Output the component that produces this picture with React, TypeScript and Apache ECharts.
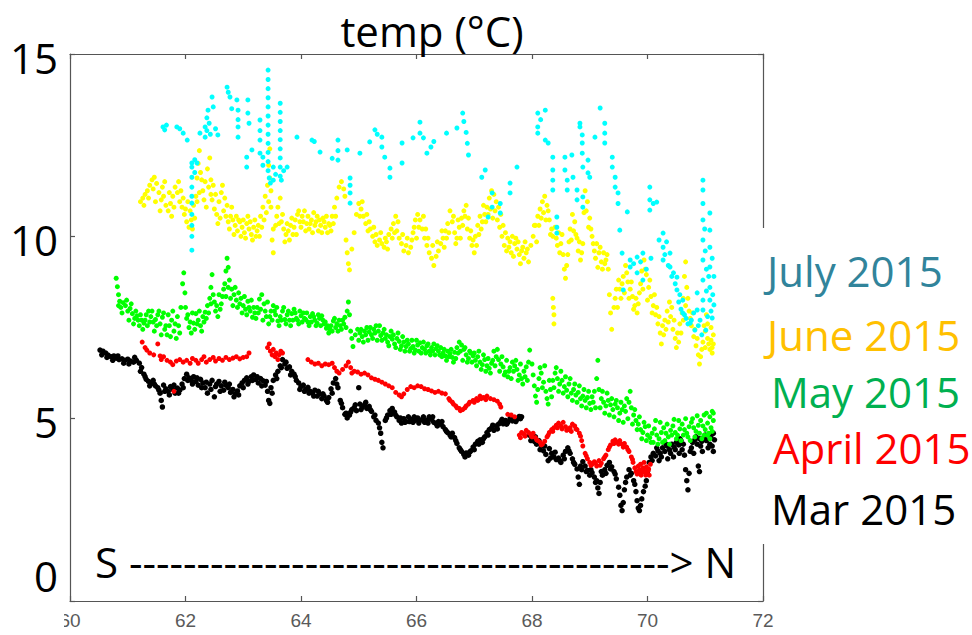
import React, { useEffect, useRef } from "react";
import * as echarts from "echarts";

// Longitude (°) vs temperature (°C) readings for each monthly transect
const marPoints: [number, number][] = [
  [60.52,6.88],[60.57,6.85],[60.62,6.80],[60.66,6.74],[60.71,6.70],[60.76,6.72],[60.80,6.66],[60.85,6.62],[60.90,6.64],[60.95,6.60],
  [61.00,6.63],[61.05,6.58],[61.10,6.55],[61.15,6.60],[61.20,6.52],[61.24,6.40],[61.28,6.22],[61.32,6.08],[61.36,6.02],[61.40,5.96],
  [61.44,6.05],[61.48,5.90],[61.52,5.85],[61.56,5.70],[61.58,5.50],[61.60,5.32],[61.62,5.92],[61.66,5.82],[61.70,5.75],[61.74,5.88],
  [61.78,5.80],[61.82,5.70],[61.86,5.84],[61.90,5.78],[61.94,5.95],[61.98,6.10],[62.02,6.22],[62.06,6.12],[62.10,6.05],[62.14,6.15],
  [62.18,6.02],[62.22,5.92],[62.26,6.08],[62.30,5.98],[62.34,5.85],[62.38,5.70],[62.42,5.95],[62.46,6.05],[62.50,5.60],[62.54,5.95],
  [62.58,6.02],[62.62,5.90],[62.66,5.78],[62.70,5.92],[62.74,5.85],[62.78,5.72],[62.82,5.80],[62.86,5.68],[62.90,5.76],[62.94,5.90],
  [62.98,5.98],[63.02,6.05],[63.06,6.12],[63.10,6.02],[63.14,6.15],[63.18,6.20],[63.22,6.08],[63.26,5.98],[63.30,6.10],[63.34,6.04],
  [63.38,5.92],[63.42,5.75],[63.44,5.50],[63.46,5.42],[63.48,5.85],[63.52,6.05],[63.56,6.20],[63.60,6.30],[63.64,6.45],[63.68,6.62],
  [63.72,6.50],[63.76,6.38],[63.80,6.42],[63.84,6.30],[63.88,6.22],[63.92,6.05],[63.96,5.98],[64.00,5.88],[64.04,5.92],[64.08,5.80],
  [64.12,5.86],[64.16,5.75],[64.20,5.70],[64.24,5.78],[64.28,5.62],[64.32,5.68],[64.36,5.55],[64.40,5.62],[64.44,5.50],[64.48,5.58],
  [64.52,5.82],[64.56,5.98],[64.60,6.10],[64.64,5.85],[64.68,5.50],[64.72,5.30],[64.76,5.12],[64.80,5.02],[64.84,5.10],[64.88,5.25],
  [64.92,5.30],[64.96,5.22],[65.00,5.85],[65.02,5.40],[65.06,5.32],[65.10,5.38],[65.14,5.28],[65.18,5.34],[65.22,5.20],[65.26,5.05],
  [65.30,4.95],[65.34,4.88],[65.38,4.60],[65.40,4.35],[65.42,4.20],[65.46,4.95],[65.50,5.10],[65.54,5.22],[65.58,5.28],[65.62,5.18],
  [65.66,5.05],[65.70,4.95],[65.74,4.88],[65.78,5.00],[65.82,4.92],[65.86,5.05],[65.90,4.98],[65.94,4.90],[65.98,4.96],[66.02,5.02],
  [66.06,4.95],[66.10,4.98],[66.14,4.90],[66.18,4.96],[66.22,5.05],[66.26,4.98],[66.30,4.90],[66.34,4.86],[66.38,4.92],[66.42,4.85],
  [66.46,4.78],[66.50,4.70],[66.54,4.62],[66.58,4.55],[66.62,4.60],[66.66,4.48],[66.70,4.32],[66.74,4.20],[66.78,4.10],[66.82,4.02],
  [66.86,4.06],[66.90,4.00],[66.94,4.12],[66.98,4.22],[67.02,4.30],[67.06,4.38],[67.10,4.42],[67.14,4.35],[67.18,4.50],[67.22,4.62],
  [67.26,4.70],[67.30,4.75],[67.34,4.68],[67.38,4.80],[67.42,4.85],[67.46,4.92],[67.50,4.86],[67.54,4.95],[67.58,4.90],[67.62,5.00],
  [67.66,4.94],[67.70,5.02],[67.74,4.98],[67.78,5.06],[67.82,5.05],[67.95,4.55],[68.00,4.45],[68.04,4.38],[68.08,4.30],[68.12,4.40],
  [68.16,4.25],[68.20,4.12],[68.24,4.02],[68.28,3.85],[68.30,4.18],[68.34,4.05],[68.38,3.95],[68.42,3.88],[68.46,3.92],[68.50,3.80],
  [68.54,4.00],[68.58,4.10],[68.62,4.20],[68.66,4.05],[68.70,3.90],[68.74,3.75],[68.78,3.62],[68.80,3.40],[68.82,3.20],[68.84,3.70],
  [68.88,3.82],[68.92,3.70],[68.96,3.58],[69.00,3.45],[69.04,3.52],[69.08,3.40],[69.12,3.30],[69.14,3.10],[69.16,2.95],[69.18,3.25],
  [69.22,3.45],[69.26,3.60],[69.30,3.72],[69.34,3.80],[69.38,3.68],[69.42,3.55],[69.46,3.35],[69.50,3.12],[69.52,2.90],[69.54,2.62],
  [69.56,2.48],[69.58,2.70],[69.60,3.05],[69.64,3.40],[69.68,3.60],[69.72,3.50],[69.76,3.30],[69.80,3.00],[69.82,2.75],[69.84,2.55],
  [69.86,2.48],[69.88,2.62],[69.90,2.80],[69.93,3.00],[69.96,3.15],[69.98,3.30],[70.00,3.55],[70.03,3.80],[70.06,3.95],[70.10,4.05],
  [70.14,3.98],[70.18,4.12],[70.22,4.05],[70.26,4.20],[70.30,4.10],[70.34,4.25],[70.38,4.15],[70.42,4.30],[70.46,4.22],[70.50,4.35],
  [70.54,4.28],[70.58,4.40],[70.62,4.30],[70.64,4.00],[70.66,3.60],[70.68,3.30],[70.70,3.05],[70.72,3.50],[70.74,4.10],[70.78,4.35],
  [70.82,4.42],[70.86,4.30],[70.90,4.45],[70.94,4.38],[70.98,4.50],[71.02,4.40],[71.06,4.55],[71.10,4.48],[71.14,4.60],[71.16,4.42],
  [70.20,3.85],[70.35,3.90],[70.45,3.95],[70.55,4.05],[70.80,4.05],[70.95,4.10],[71.05,4.20],[71.12,4.25],[70.88,3.70],[70.90,3.55],
  [60.55,6.75],[60.64,6.68],[60.74,6.60],[60.83,6.72],[60.93,6.52],[61.02,6.50],[61.12,6.68],[61.22,6.30],[61.30,6.15],[61.38,5.90],
  [61.46,5.95],[61.54,5.78],[61.64,5.75],[61.72,5.65],[61.80,5.92],[61.88,5.70],[61.96,5.85],[62.04,6.05],[62.12,5.95],[62.20,6.12],
  [62.28,5.85],[62.36,6.00],[62.44,5.80],[62.52,5.88],[62.60,5.75],[62.68,6.00],[62.76,5.95],[62.84,5.60],[62.92,5.65],[63.00,5.85],
  [63.08,5.95],[63.16,6.05],[63.24,6.15],[63.32,5.90],[63.40,6.02],[63.50,5.70],[63.58,6.10],[63.66,6.40],[63.74,6.55],[63.82,6.20],
  [63.90,6.15],[63.98,5.80],[64.06,5.75],[64.14,5.70],[64.22,5.62],[64.30,5.75],[64.38,5.68],[64.46,5.45],[64.54,5.70],[64.62,5.95],
  [64.70,5.42],[64.78,5.15],[64.86,5.18],[64.94,5.38],[65.04,5.25],[65.12,5.45],[65.20,5.25],[65.28,5.10],[65.36,4.75],[65.48,5.02],
  [65.56,5.12],[65.64,5.10],[65.72,5.02],[65.80,4.90],[65.88,4.92],[65.96,5.05],[66.04,4.88],[66.12,5.05],[66.20,4.88],[66.28,5.05],
  [66.36,4.80],[66.44,4.92],[66.52,4.65],[66.60,4.50],[66.68,4.40],[66.76,4.15],[66.84,3.95],[66.92,4.08],[67.00,4.15],[67.08,4.30],
  [67.16,4.45],[67.24,4.55],[67.32,4.82],[67.40,4.72],[67.48,4.98],[67.56,4.85],[67.64,5.05],[67.72,4.92],[67.80,5.00],
  [67.98,4.40],[68.06,4.50],[68.14,4.15],[68.22,4.25],[68.32,3.92],[68.40,4.08],[68.48,3.85],[68.56,3.90],[68.64,4.12],[68.72,3.80],
  [68.86,3.60],[68.94,3.55],[69.02,3.60],[69.10,3.25],[69.20,3.55],[69.28,3.50],[69.36,3.62],[69.44,3.48],[69.62,3.25],[69.70,3.45],
  [69.78,3.20],[70.08,3.85],[70.16,4.20],[70.24,3.95],[70.32,4.30],[70.40,4.05],[70.48,4.15],[70.56,4.45],[70.60,4.15],[70.76,4.20],
  [70.84,4.50],[70.92,4.25],[71.00,4.55],[71.08,4.30],[71.14,4.10]
];

const aprPoints: [number, number][] = [
  [61.25,7.10],[61.30,6.95],[61.33,6.88],[61.38,6.80],[61.45,6.75],[61.52,7.05],[61.56,6.72],[61.58,6.62],[61.62,6.70],[61.68,6.60],
  [61.74,6.55],[61.78,6.48],[61.80,5.75],[61.84,6.58],[61.90,6.62],[61.96,6.55],[62.02,6.60],[62.08,6.52],[62.12,6.65],[62.18,6.60],
  [62.22,6.52],[62.28,6.62],[62.32,6.70],[62.36,6.55],[62.42,6.62],[62.48,6.68],[62.52,6.58],[62.58,6.65],[62.64,6.60],[62.70,6.68],
  [62.76,6.62],[62.82,6.66],[62.88,6.70],[62.94,6.64],[63.00,6.68],[63.06,6.70],[63.10,6.80],
  [63.42,6.95],[63.45,7.05],[63.47,6.85],[63.50,6.75],[63.52,6.90],[63.55,6.70],[63.57,6.80],[63.60,6.62],[63.62,6.75],[63.65,6.85],[63.68,6.80],
  [64.12,6.62],[64.18,6.55],[64.24,6.50],[64.30,6.52],[64.36,6.45],[64.42,6.50],[64.48,6.48],[64.54,6.52],[64.58,6.40],[64.62,6.30],
  [64.66,6.25],[64.72,6.35],[64.78,6.45],[64.82,6.55],[64.86,6.40],[64.88,6.25],[64.92,6.30],[64.98,6.28],[65.04,6.22],[65.10,6.25],
  [65.16,6.20],[65.22,6.12],[65.28,6.08],[65.34,6.05],[65.40,6.00],[65.46,5.95],[65.52,5.90],[65.58,5.85],[65.64,5.72],[65.70,5.65],
  [65.74,5.60],[65.78,5.68],[65.84,5.80],[65.90,5.88],[65.96,5.85],[66.02,5.90],[66.08,5.88],[66.14,5.82],[66.20,5.80],[66.26,5.76],
  [66.32,5.72],[66.38,5.75],[66.44,5.70],[66.50,5.68],[66.56,5.55],[66.62,5.45],[66.68,5.35],[66.74,5.28],[66.80,5.25],[66.86,5.35],
  [66.92,5.45],[66.98,5.50],[67.04,5.55],[67.10,5.62],[67.16,5.58],[67.22,5.62],[67.28,5.55],[67.34,5.52],[67.40,5.48],[67.44,5.40],
  [67.46,5.32],[67.58,5.12],[67.64,5.10],[67.70,5.05],
  [67.78,4.55],[67.82,4.62],[67.86,4.58],[67.90,4.68],[67.94,4.62],[67.98,4.55],[68.02,4.60],[68.06,4.48],[68.10,4.40],[68.14,4.35],
  [68.18,4.30],[68.22,4.38],[68.26,4.50],[68.30,4.62],[68.34,4.70],[68.38,4.75],[68.42,4.82],[68.46,4.88],[68.50,4.80],[68.54,4.90],
  [68.58,4.78],[68.62,4.70],[68.66,4.75],[68.70,4.85],[68.74,4.80],[68.78,4.70],[68.82,4.60],[68.86,4.40],[68.88,4.25],[68.92,4.05],
  [68.96,3.90],[69.00,3.80],[69.04,3.75],[69.08,3.82],[69.12,3.70],[69.16,3.85],[69.20,3.78],[69.24,3.90],[69.28,4.00],[69.32,4.15],
  [69.36,4.28],[69.40,4.38],[69.44,4.42],[69.48,4.35],[69.52,4.40],[69.56,4.30],[69.60,4.32],[69.64,4.22],[69.68,4.10],[69.72,3.95],
  [69.75,3.80],[69.78,3.65],[69.80,3.55],[69.82,3.48],[69.84,3.70],[69.86,3.60],[69.88,3.75],[69.90,3.52],[69.92,3.65],[69.94,3.80],
  [69.96,3.55],[69.98,3.68],[70.00,3.50],[70.02,3.62],[70.05,3.75],
  [66.58,5.50],[66.64,5.40],[66.70,5.30],[66.76,5.22],[66.84,5.30],[66.90,5.40],[67.00,5.45],[67.06,5.50],[67.12,5.55],[67.20,5.52],
  [67.80,4.48],[67.88,4.52],[68.00,4.50],[68.08,4.42],[68.16,4.28],[68.28,4.55],[68.36,4.65],[68.44,4.75],[68.52,4.72],[68.60,4.68],
  [68.68,4.65],[68.76,4.72],[68.84,4.52],[68.94,3.98],[69.02,3.72],[69.10,3.78],[69.18,3.72],[69.26,3.95],[69.34,4.22],[69.42,4.32],
  [69.50,4.30],[69.58,4.22],[69.66,4.15],[69.74,3.88],[69.85,3.52],[69.89,3.45],[69.93,3.58],[69.97,3.45],[70.01,3.58],[70.03,3.45]
];

const mayPoints: [number, number][] = [
  [60.80,8.85],[60.82,8.62],[60.84,8.40],[60.86,8.22],[60.88,8.05],[60.92,8.18],[60.96,8.10],[61.00,7.95],[61.04,8.02],[61.08,7.88],
  [61.12,7.75],[61.16,7.82],[61.20,7.55],[61.24,7.70],[61.28,7.62],[61.32,7.85],[61.36,7.95],[61.40,7.80],[61.44,7.65],[61.48,7.72],
  [61.52,7.85],[61.56,7.60],[61.60,7.78],[61.64,7.45],[61.68,7.30],[61.72,7.55],[61.76,7.70],[61.80,7.40],[61.84,7.20],[61.88,7.55],
  [61.92,8.05],[61.95,8.70],[61.97,9.00],[61.99,8.45],[62.02,7.75],[62.06,7.50],[62.10,7.35],[62.14,7.62],[62.18,7.88],[62.22,7.70],
  [62.26,7.55],[62.30,7.80],[62.34,7.92],[62.38,8.10],[62.42,8.30],[62.44,8.60],[62.46,8.95],[62.48,8.40],[62.52,7.95],[62.56,7.80],
  [62.60,8.00],[62.64,8.35],[62.68,8.70],[62.70,9.05],[62.72,9.40],[62.74,9.15],[62.76,8.80],[62.80,8.55],[62.84,8.40],[62.88,8.25],
  [62.92,8.45],[62.96,8.30],[63.00,8.10],[63.04,8.00],[63.08,8.22],[63.12,7.95],[63.16,7.78],[63.20,7.90],[63.24,8.05],[63.28,8.28],
  [63.32,8.40],[63.36,8.15],[63.40,7.80],[63.44,7.60],[63.48,7.95],[63.52,8.10],[63.56,7.85],[63.60,7.68],[63.64,7.80],[63.68,7.95],
  [63.72,7.72],[63.76,7.85],[63.80,7.70],[63.84,7.88],[63.88,8.00],[63.92,7.75],[63.96,7.60],[64.00,7.82],[64.04,7.90],[64.08,7.72],
  [64.12,7.65],[64.16,7.80],[64.20,7.88],[64.24,7.70],[64.28,7.62],[64.32,7.75],[64.36,7.82],[64.40,7.60],[64.44,7.48],[64.48,7.35],
  [64.52,7.55],[64.56,7.68],[64.60,7.50],[64.64,7.40],[64.68,7.55],[64.72,7.70],[64.76,7.78],[64.80,7.95],[64.82,8.20],[64.84,7.85],
  [64.86,7.40],[64.88,7.20],[64.90,6.98],[64.94,7.30],[64.98,7.45],[65.02,7.35],[65.06,7.25],[65.10,7.40],[65.14,7.50],[65.18,7.38],
  [65.22,7.30],[65.26,7.45],[65.30,7.55],[65.34,7.40],[65.38,7.28],[65.42,7.35],[65.46,7.20],[65.50,7.10],[65.54,7.25],[65.58,7.18],
  [65.62,7.05],[65.66,7.20],[65.70,7.12],[65.74,7.00],[65.78,7.10],[65.82,6.98],[65.86,7.05],[65.90,6.92],[65.94,6.98],[65.98,6.88],
  [66.02,7.02],[66.06,7.08],[66.10,6.95],[66.14,6.90],[66.18,7.00],[66.22,6.85],[66.26,6.95],[66.30,7.05],[66.34,6.92],[66.38,6.85],
  [66.42,6.95],[66.46,6.80],[66.50,6.72],[66.54,6.85],[66.58,6.78],[66.62,6.68],[66.66,6.82],[66.70,6.95],[66.74,7.10],[66.78,7.02],
  [66.82,6.90],[66.86,6.75],[66.90,6.65],[66.94,6.80],[66.98,6.72],[67.02,6.60],[67.06,6.70],[67.10,6.55],[67.14,6.48],[67.18,6.62],
  [67.22,6.45],[67.26,6.38],[67.30,6.52],[67.34,6.85],[67.38,6.70],[67.42,6.62],[67.46,6.50],[67.50,6.42],[67.54,6.28],[67.58,6.15],
  [67.62,6.40],[67.66,6.55],[67.70,6.45],[67.74,6.35],[67.78,6.20],[67.82,6.10],[67.86,6.30],[67.90,6.42],[67.92,6.05],[67.96,6.88],
  [68.00,6.50],[68.02,6.20],[68.04,5.90],[68.06,5.62],[68.08,5.45],[68.12,6.10],[68.16,6.25],[68.20,6.00],[68.24,5.75],[68.26,5.55],
  [68.28,5.40],[68.32,5.80],[68.36,6.05],[68.40,6.25],[68.44,6.10],[68.48,5.95],[68.52,6.05],[68.56,5.88],[68.60,5.78],[68.64,5.95],
  [68.68,5.70],[68.72,5.80],[68.76,5.65],[68.80,5.72],[68.84,5.55],[68.88,5.62],[68.92,5.50],[68.96,5.58],[69.00,5.42],[69.04,5.60],
  [69.08,5.75],[69.12,6.10],[69.14,6.60],[69.16,5.80],[69.20,5.55],[69.24,5.45],[69.28,5.35],[69.32,5.50],[69.36,5.38],[69.40,5.25],
  [69.44,5.40],[69.48,5.30],[69.52,5.15],[69.56,5.25],[69.60,5.35],[69.64,5.55],[69.68,5.45],[69.72,5.30],[69.76,5.10],[69.80,4.95],
  [69.84,4.85],[69.88,4.70],[69.92,4.62],[69.96,4.78],[70.00,4.55],[70.04,4.48],[70.08,4.60],[70.12,4.72],[70.16,4.55],[70.20,4.45],
  [70.24,4.62],[70.28,4.75],[70.32,4.60],[70.36,4.50],[70.40,4.68],[70.44,4.80],[70.48,4.62],[70.52,4.55],[70.56,4.72],[70.60,4.85],
  [70.64,4.70],[70.68,4.60],[70.72,4.78],[70.76,4.90],[70.80,4.75],[70.84,4.65],[70.88,4.82],[70.92,4.95],[70.96,4.80],[71.00,4.70],
  [71.04,4.88],[71.08,5.05],[71.12,5.20],[71.14,4.95],[71.10,4.75],[71.06,4.60],[70.98,4.55],
  [70.10,4.35],[70.30,4.40],[70.50,4.45],[70.70,4.50],[70.90,4.60],[71.12,4.65],[70.22,4.90],[70.46,4.98],[70.66,5.00],[70.86,5.08],[71.02,5.15],
  [60.84,8.10],[60.90,7.90],[60.98,8.25],[61.02,7.70],[61.06,8.15],[61.10,7.60],[61.14,7.95],[61.18,7.70],[61.22,7.85],[61.26,7.45],
  [61.30,7.70],[61.34,7.55],[61.38,7.65],[61.42,7.95],[61.46,7.40],[61.50,7.55],[61.54,7.95],[61.58,7.30],[61.62,7.90],[61.66,7.55],
  [61.70,7.85],[61.74,7.25],[61.78,7.95],[61.82,7.60],[61.86,7.80],[61.90,7.35],[62.00,8.05],[62.04,7.85],[62.08,7.65],[62.12,7.90],
  [62.16,7.45],[62.20,7.60],[62.24,7.95],[62.28,7.40],[62.32,7.65],[62.36,7.75],[62.40,7.90],[62.44,8.15],[62.50,8.20],[62.54,8.10],
  [62.58,8.40],[62.62,8.15],[62.66,8.55],[62.70,8.35],[62.74,8.60],[62.78,8.30],[62.82,8.10],[62.86,8.60],[62.90,8.05],[62.94,8.15],
  [62.98,7.90],[63.02,8.35],[63.06,7.85],[63.10,8.05],[63.14,8.25],[63.18,8.05],[63.22,7.75],[63.26,7.90],[63.30,8.00],[63.34,7.70],
  [63.38,7.95],[63.42,8.20],[63.46,7.80],[63.50,7.70],[63.54,7.95],[63.58,8.05],[63.62,7.55],[63.66,7.70],[63.70,8.05],[63.74,7.60],
  [63.78,7.95],[63.82,7.55],[63.86,7.70],[63.90,7.90],[63.94,7.70],[63.98,7.95],[64.02,7.65],[64.06,7.75],[64.10,7.90],[64.14,7.55],
  [64.18,7.65],[64.22,7.80],[64.26,7.55],[64.30,7.85],[64.34,7.55],[64.38,7.70],[64.42,7.65],[64.46,7.55],[64.50,7.45],[64.54,7.40],
  [64.58,7.75],[64.62,7.60],[64.66,7.70],[64.70,7.45],[64.74,7.60],[64.78,7.50],
  [65.00,7.15],[65.04,7.45],[65.08,7.10],[65.12,7.30],[65.16,7.15],[65.20,7.50],[65.24,7.20],[65.28,7.35],[65.32,7.15],[65.36,7.55],
  [65.40,7.15],[65.44,7.45],[65.48,7.30],[65.52,7.00],[65.56,7.40],[65.60,7.30],[65.64,6.95],[65.68,7.35],[65.72,6.90],[65.76,7.25],
  [65.80,6.85],[65.84,7.15],[65.88,6.85],[65.92,7.15],[65.96,6.80],[66.00,7.15],[66.04,6.85],[66.08,6.80],[66.12,7.10],[66.16,6.80],
  [66.20,7.05],[66.24,6.75],[66.28,6.85],[66.32,6.75],[66.36,7.00],[66.40,6.75],[66.44,6.70],[66.48,6.90],[66.52,6.60],[66.56,6.70],
  [66.60,6.90],[66.64,6.55],[66.68,6.65],[66.72,6.80],[66.76,6.85],[66.80,6.60],[66.84,6.95],[66.88,6.55],[66.92,6.85],[66.96,6.55],
  [67.00,6.80],[67.04,6.45],[67.08,6.85],[67.12,6.35],[67.16,6.75],[67.20,6.30],[67.24,6.65],[67.28,6.25],[67.32,6.60],[67.36,6.45],
  [67.40,6.90],[67.44,6.30],[67.48,6.70],[67.52,6.20],[67.56,6.60],[67.60,6.30],[67.64,6.10],[67.68,6.30],[67.72,6.60],[67.76,6.05],
  [67.80,6.50],[67.84,5.95],[67.88,6.15],[67.94,6.55],
  [68.10,5.80],[68.14,6.40],[68.18,5.85],[68.22,6.45],[68.30,6.05],[68.34,5.60],[68.38,5.85],[68.42,6.40],[68.46,5.75],[68.50,6.30],
  [68.54,5.70],[68.58,6.15],[68.62,5.60],[68.66,6.10],[68.70,5.50],[68.74,5.95],[68.78,5.45],[68.82,5.90],[68.86,5.35],[68.90,5.80],
  [68.94,5.30],[68.98,5.75],[69.02,5.25],[69.06,5.45],[69.10,5.30],[69.18,5.30],[69.22,5.75],[69.26,5.15],[69.30,5.70],[69.34,5.10],
  [69.38,5.55],[69.42,5.05],[69.46,5.50],[69.50,4.95],[69.54,5.45],[69.58,4.90],[69.62,5.20],[69.66,5.00],[69.70,5.75],[69.74,4.85],
  [69.78,5.25],[69.82,4.70],[69.86,5.05],[69.90,4.45],[69.94,4.90],[69.98,4.40],[70.02,4.80],[70.06,4.35],[70.14,4.95],[70.18,4.30],
  [70.26,4.35],[70.34,4.85],[70.38,4.30],[70.42,4.55],[70.54,4.95],[70.58,4.40],[70.62,4.55],[70.74,4.40],[70.78,5.00],[70.82,4.50],
  [70.94,4.45],[70.98,5.10],[71.04,4.55],[71.08,4.45],[71.14,5.15]
];

const junPoints: [number, number][] = [
  [61.22,10.95],[61.26,11.05],[61.30,11.15],[61.34,11.25],[61.38,11.40],[61.42,11.55],[61.46,11.62],[61.50,11.45],[61.54,11.20],[61.58,11.00],
  [61.62,11.10],[61.66,10.85],[61.70,10.70],[61.74,10.90],[61.78,11.10],[61.82,11.35],[61.86,11.20],[61.90,10.95],[61.94,10.80],[61.98,10.60],
  [62.02,10.40],[62.06,10.25],[62.10,10.45],[62.14,10.85],[62.18,11.10],[62.20,11.60],[62.22,12.00],[62.24,12.35],[62.26,11.75],[62.30,11.25],
  [62.34,11.50],[62.38,11.85],[62.42,12.15],[62.44,11.55],[62.46,11.00],[62.50,10.75],[62.54,10.60],[62.58,10.95],[62.62,11.20],[62.66,10.70],
  [62.70,10.55],[62.74,10.40],[62.78,10.55],[62.82,10.45],[62.86,10.30],[62.90,10.15],[62.94,10.40],[62.98,10.25],[63.02,10.10],[63.06,10.35],
  [63.10,10.20],[63.14,10.05],[63.18,10.25],[63.22,10.00],[63.26,10.30],[63.30,10.55],[63.34,10.80],[63.38,11.10],[63.42,11.40],[63.44,11.95],
  [63.46,12.40],[63.48,10.80],[63.50,9.90],[63.52,9.55],[63.56,10.30],[63.60,10.80],[63.64,11.05],[63.66,10.40],[63.70,10.20],[63.74,10.05],
  [63.78,10.15],[63.82,10.30],[63.86,10.05],[63.90,10.45],[63.94,10.60],[63.98,10.40],[64.02,10.55],[64.06,10.70],[64.10,10.35],[64.14,10.20],
  [64.18,10.45],[64.22,10.65],[64.26,10.40],[64.30,10.15],[64.34,10.30],[64.38,10.50],[64.42,10.25],[64.46,10.10],[64.50,10.30],[64.54,10.55],
  [64.58,10.80],[64.62,11.05],[64.66,11.35],[64.70,11.50],[64.74,11.30],[64.76,11.10],[64.78,9.90],[64.80,9.55],[64.82,9.25],[64.84,9.08],
  [64.88,9.65],[64.92,10.10],[64.96,10.60],[65.00,10.90],[65.04,10.75],[65.08,10.55],[65.12,10.35],[65.16,10.15],[65.20,10.20],[65.24,10.00],
  [65.28,9.85],[65.32,9.75],[65.36,9.90],[65.40,9.80],[65.44,9.70],[65.48,9.85],[65.52,10.05],[65.56,10.20],[65.60,10.35],[65.64,10.55],
  [65.66,10.15],[65.70,9.95],[65.74,9.80],[65.78,9.60],[65.82,9.75],[65.86,9.55],[65.90,9.70],[65.94,10.10],[65.98,10.45],[66.02,10.60],
  [66.06,10.45],[66.10,10.20],[66.14,9.95],[66.18,9.75],[66.22,9.55],[66.26,9.40],[66.30,9.20],[66.34,9.45],[66.38,9.60],[66.42,9.80],
  [66.46,9.95],[66.50,10.15],[66.54,10.35],[66.58,10.70],[66.62,10.40],[66.66,10.10],[66.70,9.95],[66.74,10.25],[66.78,10.50],[66.82,10.70],
  [66.84,10.55],[66.88,10.20],[66.92,9.95],[66.96,9.75],[67.00,9.55],[67.02,10.00],[67.06,10.30],[67.10,10.55],[67.14,10.40],[67.18,10.60],
  [67.22,10.80],[67.26,11.05],[67.30,11.25],[67.34,11.15],[67.38,10.95],[67.42,10.80],[67.46,10.60],[67.50,10.30],[67.54,10.10],[67.58,9.95],
  [67.62,9.85],[67.66,10.00],[67.70,9.80],[67.74,9.65],[67.78,9.50],[67.82,9.60],[67.86,9.40],[67.90,9.55],[67.94,9.30],[67.98,9.75],
  [68.02,10.00],[68.06,10.30],[68.10,10.55],[68.14,10.75],[68.18,10.95],[68.22,11.10],[68.26,10.85],[68.30,10.45],[68.34,10.20],[68.36,10.00],
  [68.36,8.30],[68.37,8.05],[68.38,7.85],[68.38,7.60],[68.42,9.95],[68.46,10.10],[68.50,9.80],[68.54,9.50],[68.56,9.10],[68.58,8.85],
  [68.62,9.50],[68.66,10.20],[68.70,10.60],[68.74,10.40],[68.78,9.95],[68.80,9.60],[68.84,9.35],[68.88,9.80],[68.90,10.65],[68.92,11.25],
  [68.96,10.95],[69.00,10.50],[69.04,10.00],[69.08,9.60],[69.12,9.80],[69.16,9.55],[69.20,9.30],[69.24,9.55],[69.28,9.35],[69.32,9.10],
  [69.34,8.40],[69.36,7.90],[69.38,7.45],[69.42,8.05],[69.46,8.55],[69.50,8.80],[69.54,8.30],[69.58,8.90],[69.62,9.20],[69.66,8.75],
  [69.70,8.55],[69.74,8.35],[69.78,8.10],[69.82,7.90],[69.86,8.45],[69.90,9.05],[69.94,9.35],[69.98,8.95],[70.02,8.60],[70.06,8.35],
  [70.10,8.10],[70.14,7.85],[70.18,7.60],[70.22,7.35],[70.24,7.05],[70.28,7.30],[70.30,7.70],[70.34,7.95],[70.38,8.20],[70.40,7.80],
  [70.44,7.45],[70.48,7.20],[70.50,6.95],[70.52,7.35],[70.56,7.60],[70.60,7.90],[70.62,8.30],[70.64,8.90],[70.66,9.30],[70.68,8.60],
  [70.72,7.95],[70.76,7.55],[70.80,7.25],[70.84,7.00],[70.88,6.75],[70.90,6.50],[70.92,6.70],[70.96,7.10],[71.00,7.40],[71.02,7.85],
  [71.04,7.20],[71.08,6.90],[71.10,7.15],[71.12,6.95],[71.14,7.30],
  [61.28,10.85],[61.36,11.05],[61.44,11.30],[61.48,10.95],[61.56,10.70],[61.60,11.35],[61.64,11.50],[61.72,11.20],[61.76,10.55],[61.80,10.80],
  [61.88,11.50],[61.92,11.25],[61.96,11.05],[62.00,10.75],[62.04,10.95],[62.08,10.70],[62.12,10.20],[62.16,10.50],[62.20,10.95],[62.24,11.20],
  [62.28,11.55],[62.32,11.00],[62.36,10.80],[62.40,11.35],[62.44,11.15],[62.48,11.40],[62.52,11.15],[62.56,10.35],[62.60,10.50],[62.64,11.40],
  [62.68,11.05],[62.72,10.85],[62.76,10.20],[62.80,10.80],[62.84,10.05],[62.88,10.55],[62.92,10.45],[62.96,10.00],[63.00,10.45],[63.04,9.95],
  [63.08,10.55],[63.12,10.40],[63.16,9.90],[63.20,10.45],[63.24,10.15],[63.28,10.00],[63.32,10.25],[63.36,10.45],[63.40,10.65],[63.44,10.95],
  [63.46,11.60],[63.48,11.25],[63.52,10.20],[63.58,10.55],[63.62,10.35],[63.68,10.60],[63.72,9.85],[63.76,10.35],[63.80,9.90],[63.84,10.50],
  [63.88,10.25],[63.92,10.05],[63.96,10.70],[64.00,10.25],[64.04,10.40],[64.08,10.15],[64.12,10.55],[64.16,10.35],[64.20,10.10],[64.24,10.30],
  [64.28,10.55],[64.32,10.45],[64.36,10.10],[64.40,10.40],[64.44,10.55],[64.48,10.35],[64.52,10.15],[64.56,10.35],[64.60,10.55],
  [65.02,10.55],[65.06,10.95],[65.14,10.60],[65.18,10.40],[65.26,10.25],[65.30,10.05],[65.38,10.10],[65.46,9.95],[65.50,9.65],[65.58,9.95],
  [65.62,10.10],[65.68,10.40],[65.76,10.05],[65.84,9.95],[65.92,9.90],[65.96,10.25],[66.00,9.95],[66.04,10.25],[66.12,10.55],[66.16,10.20],
  [66.20,9.95],[66.28,9.75],[66.36,9.85],[66.44,10.15],[66.48,9.70],[66.52,9.95],[66.56,10.10],[66.64,10.55],[66.68,9.80],[66.72,10.45],
  [66.76,9.95],[66.80,10.30],[66.86,10.85],[66.90,10.50],[66.94,10.15],[66.98,9.90],[67.04,9.75],[67.08,10.05],[67.12,10.20],[67.16,10.85],
  [67.20,10.40],[67.24,10.60],[67.28,10.75],[67.32,10.50],[67.36,10.70],[67.40,10.45],[67.44,10.25],[67.48,10.00],[67.52,9.75],[67.56,9.60],
  [67.60,9.70],[67.64,9.55],[67.68,9.45],[67.72,9.95],[67.76,9.85],[67.80,9.25],[67.84,9.70],[67.88,9.85],[67.92,9.65],
  [68.04,10.30],[68.08,9.85],[68.12,10.30],[68.16,10.50],[68.20,10.65],[68.24,10.45],[68.28,10.70],[68.32,10.05],[68.40,10.25],[68.44,9.75],
  [68.48,9.55],[68.52,10.05],[68.60,9.20],[68.64,9.85],[68.68,9.90],[68.72,10.15],[68.76,10.05],[68.82,9.85],[68.86,9.55],[68.94,10.70],
  [68.98,10.25],[69.02,10.20],[69.06,9.80],[69.10,9.40],[69.14,9.15],[69.18,9.70],[69.22,9.10],[69.26,9.25],[69.30,9.50],[69.44,8.30],
  [69.48,8.05],[69.52,8.55],[69.56,8.70],[69.60,8.45],[69.64,9.00],[69.68,8.30],[69.72,8.75],[69.76,8.00],[69.80,8.30],[69.84,8.15],
  [69.88,8.70],[69.92,8.55],[69.96,9.10],[70.00,8.25],[70.04,8.80],[70.08,7.90],[70.12,8.40],[70.16,8.05],[70.20,7.80],[70.26,7.55],
  [70.32,7.45],[70.36,7.65],[70.42,8.05],[70.46,7.70],[70.54,7.10],[70.58,7.35],[70.62,7.70],[70.66,8.10],[70.70,8.30],[70.74,7.75],
  [70.78,7.90],[70.82,7.45],[70.86,7.20],[70.94,6.90],[70.98,7.55],[71.00,6.95],[71.04,7.60],[71.06,7.05],[71.10,7.50],[71.12,6.80],[71.14,7.05]
];

const julPoints: [number, number][] = [
  [61.61,13.00],[61.64,12.92],[61.67,13.05],[61.85,13.00],[61.90,12.95],[61.96,12.83],[62.03,12.64],[62.11,12.01],[62.11,11.90],[62.11,11.62],
  [62.11,11.35],[62.11,11.10],[62.11,10.91],[62.11,10.60],[62.11,10.30],[62.11,10.00],[62.11,9.62],[62.16,12.10],[62.16,11.75],[62.20,12.01],
  [62.25,12.83],[62.34,13.00],[62.34,12.72],[62.37,13.25],[62.37,12.90],[62.39,13.46],[62.41,13.10],[62.43,12.80],[62.46,13.82],[62.48,13.55],
  [62.52,12.95],[62.56,12.78],[62.72,14.09],[62.74,13.95],[62.77,13.82],[62.80,13.50],[62.89,13.74],[62.91,13.46],[62.91,13.20],[62.91,13.00],
  [62.91,12.72],[63.06,12.17],[63.06,11.90],[63.08,13.74],[63.08,13.38],[63.10,13.10],[63.15,12.37],[63.29,13.19],[63.29,12.90],[63.29,12.64],
  [63.29,12.28],[63.34,12.17],[63.34,11.95],[63.43,14.56],[63.43,14.30],[63.43,14.05],[63.43,13.80],[63.43,13.55],[63.43,13.30],[63.43,13.05],
  [63.43,12.80],[63.43,12.55],[63.43,12.30],[63.43,12.05],[63.43,11.80],[63.45,11.60],[63.47,11.46],[63.52,11.90],[63.52,11.54],[63.56,11.70],
  [63.64,13.65],[63.64,13.40],[63.64,13.15],[63.64,12.90],[63.64,12.65],[63.64,12.40],[63.64,12.15],[63.64,11.90],[63.64,11.65],[63.66,11.54],
  [63.70,11.80],[63.76,11.90],[63.93,12.72],[64.19,12.64],[64.23,12.60],[64.33,12.31],[64.54,12.14],[64.64,12.64],[64.64,12.35],[64.64,12.09],
  [64.80,12.37],[64.85,11.60],[64.85,11.40],[64.85,11.19],[64.85,10.91],[65.02,12.28],[65.19,12.59],[65.28,12.92],[65.32,12.80],[65.40,12.72],
  [65.40,12.45],[65.45,12.17],[65.54,11.87],[65.54,11.62],[65.75,12.56],[65.75,12.01],[65.94,12.70],[66.06,13.13],[66.06,12.83],[66.12,12.70],
  [66.18,12.28],[66.25,12.45],[66.30,12.60],[66.52,12.83],[66.70,12.97],[66.80,13.38],[66.82,13.15],[66.86,12.85],[66.88,12.55],[66.90,12.23],
  [67.13,11.62],[67.19,11.82],[67.24,10.53],[67.31,11.19],[67.31,10.80],[67.45,10.90],[67.45,10.64],[67.62,11.46],[67.62,11.19],[67.74,11.90],
  [68.10,13.38],[68.10,13.00],[68.10,12.83],[68.15,13.20],[68.23,13.46],[68.23,12.64],[68.28,12.56],[68.36,12.17],[68.36,11.82],[68.36,11.54],
  [68.36,11.27],[68.43,10.53],[68.43,10.25],[68.43,10.09],[68.57,12.17],[68.57,11.82],[68.61,11.54],[68.61,11.27],[68.69,12.23],[68.71,11.62],
  [68.78,11.27],[68.78,11.00],[68.83,13.10],[68.83,13.00],[68.87,12.78],[68.87,12.56],[68.87,12.28],[68.88,11.90],[68.88,11.08],[68.88,10.80],
  [68.97,12.09],[68.97,11.74],[69.00,11.62],[69.09,12.72],[69.18,13.52],[69.26,13.10],[69.26,12.83],[69.26,12.56],[69.39,12.17],[69.39,11.90],
  [69.44,11.62],[69.44,11.35],[69.49,11.19],[69.49,10.90],[69.52,10.17],[69.56,9.54],[69.58,8.53],[69.65,10.67],[69.70,9.35],[69.70,9.16],
  [69.76,9.25],[69.82,9.43],[69.82,9.00],[69.88,9.30],[69.92,9.54],[69.92,8.80],[70.04,11.35],[70.04,11.00],[70.04,10.72],[70.10,10.90],
  [70.16,10.94],[70.27,10.09],[70.27,9.70],[70.27,9.35],[70.33,9.85],[70.39,9.54],[70.39,9.16],[70.45,9.00],[70.51,8.88],[70.51,8.53],
  [70.56,8.40],[70.61,8.25],[70.61,7.90],[70.67,7.75],[70.74,7.62],[70.80,7.90],[70.82,7.43],[70.86,8.45],[70.86,7.98],[70.91,7.70],
  [70.96,11.54],[70.96,11.27],[70.96,10.90],[70.96,10.45],[70.96,9.90],[70.96,9.35],[70.96,8.80],[70.96,8.25],[70.96,7.98],[71.01,7.43],
  [71.02,8.50],[71.02,9.10],[71.08,10.64],[71.08,10.17],[71.08,9.70],[71.08,9.16],[71.08,8.60],[71.08,8.25],[71.12,7.76],[71.15,8.12],[71.15,8.90],
  [69.98,9.10],[70.06,9.40],[70.20,9.90],[70.30,9.50],[70.36,9.20],[70.42,8.90],[70.48,8.70],[70.54,8.20],[70.58,8.00],[70.64,7.85],
  [70.70,7.60],[70.76,7.70],[70.88,7.55],[70.94,7.30],[71.04,7.80],[71.10,7.95],[71.13,8.40],[71.06,8.90],[71.00,9.60],[70.99,10.20],[71.12,9.40]
];

// Month labels beside the plot, with their colours
const monthLabels = ["July 2015", "June 2015", "May 2015", "April 2015", "Mar 2015"];
const monthColors = ["#31849B", "#FFC000", "#00B050", "#FF0000", "#000000"];
const monthLabelX = [767, 767, 771, 773, 771];
const monthLabelY = [270, 334, 391, 447, 508];

// Axis ranges and steps
const lonRange = [60, 72];
const lonStep = 2;
const tempRange = [0, 15];
const tempStep = 5;

const AXIS_COLOR = "#555";
const TEXT_FONT = "Open Sans";

export default function App() {
  const ref = useRef<HTMLDivElement>(null);

  useEffect(() => {
    if (!ref.current) return;
    const chart = echarts.init(ref.current, undefined, { renderer: "svg" });

    const axisLine = { show: true, onZero: false, lineStyle: { color: AXIS_COLOR, width: 1.2 } };
    const axisTick = { show: true, inside: true, length: 5, lineStyle: { color: AXIS_COLOR, width: 1.2 } };

    const scatter = (name: string, data: [number, number][], color: string, size: number) => ({
      name,
      type: "scatter",
      data,
      symbol: "circle",
      symbolSize: size,
      itemStyle: { color, opacity: 1 },
      emphasis: { disabled: true },
      silent: true,
    });

    chart.setOption({
      animation: false,
      backgroundColor: "#fff",
      grid: { left: 70, right: 209, top: 54, bottom: 34 },
      xAxis: [
        {
          type: "value",
          position: "bottom",
          min: lonRange[0],
          max: lonRange[1],
          interval: lonStep,
          axisLine,
          axisTick,
          axisLabel: { color: "#5a5a5a", fontSize: 19, fontFamily: "Liberation Sans", margin: 10 },
          splitLine: { show: false },
        },
        {
          type: "value",
          position: "top",
          min: lonRange[0],
          max: lonRange[1],
          interval: lonStep,
          axisLine,
          axisTick,
          axisLabel: { show: false },
          splitLine: { show: false },
        },
      ],
      yAxis: [
        {
          type: "value",
          position: "left",
          min: tempRange[0],
          max: tempRange[1],
          interval: tempStep,
          axisLine,
          axisTick,
          axisLabel: {
            color: "#000",
            fontSize: 42,
            fontFamily: TEXT_FONT,
            margin: 12,
            padding: [6, 0, 0, 0],
            formatter: (v: number) => (v === 0 ? "{z|0}" : String(v)),
            rich: {
              z: { fontSize: 42, fontFamily: TEXT_FONT, color: "#000", padding: [0, 0, 58, 0] },
            },
          },
          splitLine: { show: false },
        },
        {
          type: "value",
          position: "right",
          min: tempRange[0],
          max: tempRange[1],
          interval: tempStep,
          axisLine,
          axisTick,
          axisLabel: { show: false },
          splitLine: { show: false },
        },
      ],
      series: [
        scatter("Mar 2015", marPoints, "#000000", 5.5),
        scatter("April 2015", aprPoints, "#FF0000", 5),
        scatter("May 2015", mayPoints, "#00FF00", 5),
        scatter("June 2015", junPoints, "#FFFF00", 5),
        scatter("July 2015", julPoints, "#00FFFF", 5),
      ],
      graphic: [
        // gap in the right frame behind the month labels
        { type: "rect", z: 100, shape: { x: 757, y: 228, width: 12, height: 316 }, style: { fill: "#fff" } },
        // trimmed left edge of the first longitude label
        { type: "rect", z: 100, shape: { x: 0, y: 606, width: 64, height: 29 }, style: { fill: "#fff" } },
        {
          type: "text",
          z: 110,
          x: 432,
          y: 30,
          style: { text: "temp (°C)", fontSize: 42, fontFamily: TEXT_FONT, fill: "#000", align: "center", verticalAlign: "middle" },
        },
        {
          type: "text",
          z: 110,
          x: 95,
          y: 561,
          style: {
            text: "S ----------------------------------------> N",
            fontSize: 42,
            fontFamily: TEXT_FONT,
            fill: "#000",
            align: "left",
            verticalAlign: "middle",
          },
        },
        ...monthLabels.map((label, i) => ({
          type: "text",
          z: 110,
          x: monthLabelX[i],
          y: monthLabelY[i],
          style: { text: label, fontSize: 42, fontFamily: TEXT_FONT, fill: monthColors[i], align: "left", verticalAlign: "middle" },
        })),
      ],
    });

    return () => chart.dispose();
  }, []);

  return (
    <div
      ref={ref}
      style={{ position: "fixed", left: 0, top: 0, width: 972, height: 635, background: "#fff" }}
    />
  );
}
